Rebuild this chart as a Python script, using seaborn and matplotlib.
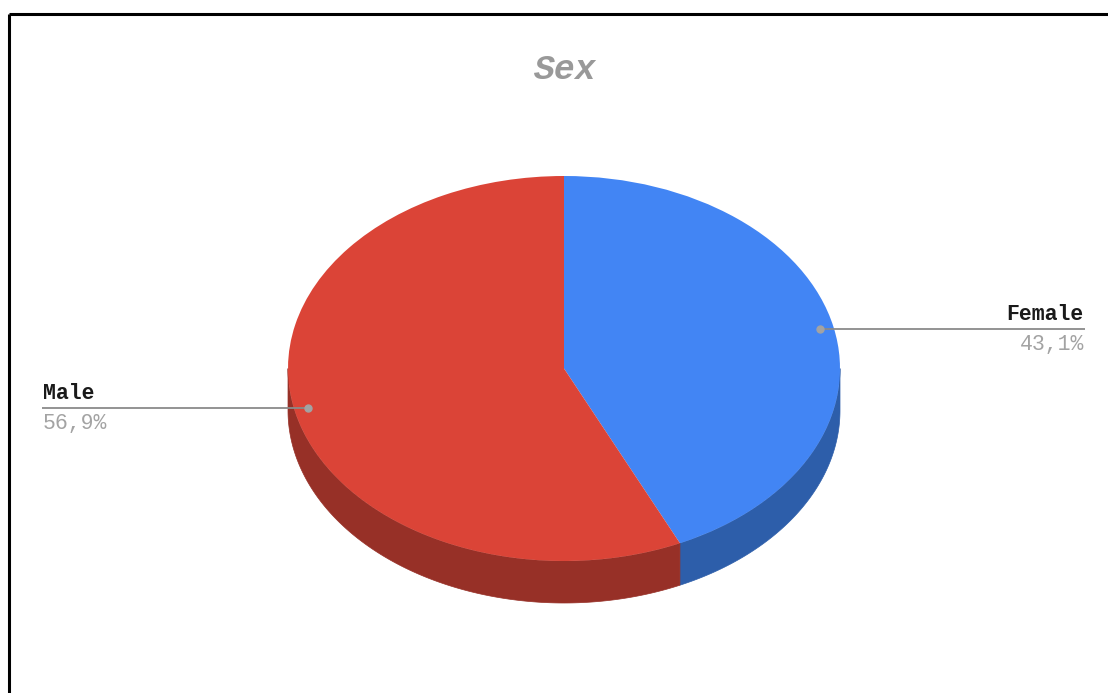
import numpy as np
import matplotlib
matplotlib.use("Agg")
import matplotlib.pyplot as plt
from matplotlib.patches import Polygon, PathPatch
from matplotlib.font_manager import FontProperties, fontManager
from matplotlib.textpath import TextPath
from matplotlib.transforms import Affine2D, IdentityTransform
import seaborn as sns

# Data
categories = ["Female", "Male"]
shares = [43.1, 56.9]
share_labels = ["43,1%", "56,9%"]
title = "Sex"

sns.set_theme(style="white")
plt.rcParams["font.family"] = ["Liberation Mono", "DejaVu Sans Mono"]

top_colors = sns.color_palette(["#4285F4", "#DB4437"])
side_colors = sns.color_palette(["#2D5EAA", "#973027"])

W, H = 1108, 693
K = 192.5 / 276.0          # vertical squash of the pie disc
CX, CY = 564.0, 368.5      # disc centre, pixel units from top-left
R = 276.0
DEPTH = 42.0               # thickness in pixels


def py(y):
    """Pixel row (from top) to data y."""
    return (H - y) / K


fig = plt.figure(figsize=(W / 100, H / 100), dpi=100)
ax = fig.add_axes([0, 0, 1, 1])

centre = (CX, py(CY))
wedges, _ = ax.pie(shares, colors=top_colors, startangle=90, counterclock=False,
                   radius=R, center=centre, wedgeprops=dict(linewidth=0),
                   frame=True)
for w in wedges:
    w.set_zorder(3)

# Side walls of the disc (front half only)
d = DEPTH / K
for w, sc in zip(wedges, side_colors):
    lo, hi = min(w.theta1, w.theta2), max(w.theta1, w.theta2)
    while hi > 90:
        lo -= 360
        hi -= 360
    a0, a1 = max(lo, -180), min(hi, 0)
    if a1 <= a0:
        continue
    t = np.radians(np.linspace(a0, a1, 200))
    xs = centre[0] + R * np.cos(t)
    ys = centre[1] + R * np.sin(t)
    pts = np.concatenate([np.column_stack([xs, ys]),
                          np.column_stack([xs[::-1], ys[::-1] - d])])
    ax.add_patch(Polygon(pts, closed=True, facecolor=sc, edgecolor=sc,
                         linewidth=0.5, zorder=2))

ax.set_xlim(0, W)
ax.set_ylim(0, H / K)
ax.set_aspect("auto")
ax.axis("off")

# Leader lines with labels
label_gray = "#a3a3a3"
line_gray = "#8a8a8a"
cum = 0.0
total = sum(shares)
for cat, val, lab in zip(categories, shares, share_labels):
    mid = 90 - 360 * (cum + val / 2) / total
    cum += val
    r = 0.95 * R
    dx = CX + r * np.cos(np.radians(mid))
    dy = CY - r * K * np.sin(np.radians(mid))
    if np.cos(np.radians(mid)) >= 0:
        x_end, ha, tx = 1085, "right", 1084
    else:
        x_end, ha, tx = 42, "left", 43
    ax.plot([dx, x_end], [py(dy), py(dy)], color=line_gray, lw=1.3, zorder=4,
            solid_capstyle="butt")
    ax.plot([dx], [py(dy)], marker="o", ms=5, color=label_gray, mec=label_gray,
            zorder=5)
    ax.text(tx, py(dy - 9), cat, ha=ha, va="baseline", fontsize=15.5,
            fontweight="bold", color="#1a1a1a")
    ax.text(tx, py(dy + 21), lab, ha=ha, va="baseline", fontsize=15.5,
            color=label_gray)

# Title: bold italic monospace; slant the bold face if no italic cut exists
title_color = "#999999"
has_bold_italic = any(f.name == "Liberation Mono" and f.style == "italic"
                      and f.weight in ("bold", 700) for f in fontManager.ttflist)
if has_bold_italic:
    ax.text(565, py(79), title, ha="center", va="baseline",
            fontproperties=FontProperties(family="Liberation Mono",
                                          style="italic", weight="bold",
                                          size=25),
            color=title_color)
else:
    tp = TextPath((0, 0), title, size=35,
                  prop=FontProperties(family="Liberation Mono", weight="bold"))
    ext = tp.get_extents()
    trans = (Affine2D().translate(-(ext.x0 + ext.x1) / 2, 0)
             .skew_deg(12, 0).translate(565, H - 79))
    ax.add_patch(PathPatch(trans.transform_path(tp), transform=IdentityTransform(),
                           facecolor=title_color, edgecolor="none", zorder=6))

# Outer frame (top and left edges)
ax.plot([8.5, W], [py(13.5), py(13.5)], color="black", lw=2.2,
        solid_capstyle="butt", zorder=6)
ax.plot([8.5, 8.5], [py(13.5), py(H + 5)], color="black", lw=2.2,
        solid_capstyle="butt", zorder=6)

fig.savefig("out.png", dpi=100, facecolor="white")
